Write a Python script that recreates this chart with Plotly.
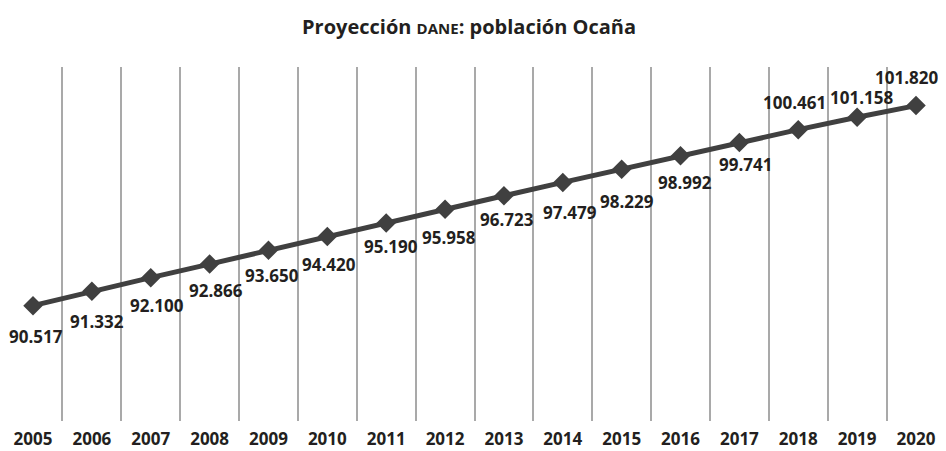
import plotly.graph_objects as go

years = [2005, 2006, 2007, 2008, 2009, 2010, 2011, 2012, 2013, 2014, 2015, 2016, 2017, 2018, 2019, 2020]
population = [90.517, 91.332, 92.100, 92.866, 93.650, 94.420, 95.190, 95.958,
              96.723, 97.479, 98.229, 98.992, 99.741, 100.461, 101.158, 101.820]
labels = ["90.517", "91.332", "92.100", "92.866", "93.650", "94.420", "95.190", "95.958",
          "96.723", "97.479", "98.229", "98.992", "99.741", "100.461", "101.158", "101.820"]

# label placement offsets in pixels (dx right, dy down)
label_dx = [3, 5, 6, 6, 4, 2, 5, 4, 3, 7, 5, 4, 6, -4, 4, -9]
label_dy = [31, 30, 28, 26, 25, 28, 24, 28, 24, 30, 32, 27, 22, -27, -20, -28]

FONT = "Open Sans"
TXT = "#231f20"

fig = go.Figure()
fig.add_trace(go.Scatter(
    x=years, y=population, mode="lines+markers",
    line=dict(color="#404040", width=5),
    marker=dict(symbol="diamond", size=15, color="#404040"),
    hoverinfo="skip", showlegend=False,
))

for yr, v, t, dx, dy in zip(years, population, labels, label_dx, label_dy):
    fig.add_annotation(x=yr, y=v, text=t, showarrow=False,
                       xshift=dx, yshift=-dy,
                       font=dict(family=FONT, size=17, color=TXT, weight="bold"))

fig.add_annotation(xref="paper", yref="paper", x=0.492, y=1.0, yshift=41,
                   yanchor="middle", showarrow=False,
                   text="<b>Proyección <span style='font-size:15px'>DANE</span>: población Ocaña</b>",
                   font=dict(family=FONT, size=20, color=TXT))

fig.update_layout(
    width=938, height=443,
    margin=dict(l=0, r=0, t=59, b=30),
    paper_bgcolor="white", plot_bgcolor="white",
    xaxis=dict(
        range=[2004.575, 2020.51],
        tickvals=years, ticktext=[str(y) for y in years],
        showgrid=False, zeroline=False, showline=False, ticks="",
        ticklabelstandoff=6, automargin=False,
        tickfont=dict(family=FONT, size=17, color=TXT, weight="bold"),
        minor=dict(tickvals=[y + 0.5 for y in years[:-1]], showgrid=True,
                   gridcolor="#a9a9a9", gridwidth=1.5, ticks=""),
    ),
    yaxis=dict(range=[84, 104], visible=False, showgrid=False, zeroline=False,
               automargin=False),
)

fig.write_html("out.html")
